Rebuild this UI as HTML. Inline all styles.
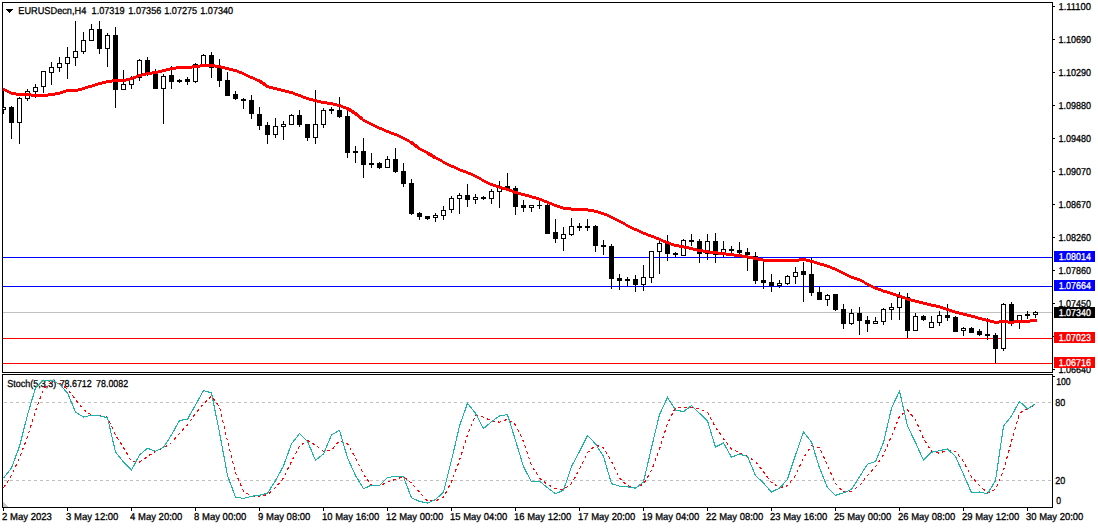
<!DOCTYPE html><html><head><meta charset="utf-8"><style>html,body{margin:0;padding:0;background:#fff;width:1098px;height:528px;overflow:hidden}svg{display:block}text{font-family:"Liberation Sans",sans-serif;text-rendering:geometricPrecision}</style></head><body><svg width="1098" height="528" viewBox="0 0 1098 528" shape-rendering="crispEdges"><defs><clipPath id="cm"><rect x="3" y="3" width="1049" height="369"/></clipPath><clipPath id="cs"><rect x="3" y="375" width="1049" height="132"/></clipPath></defs><rect width="100%" height="100%" fill="#fff"/><rect x="2" y="2" width="1051" height="1" fill="#000"/><rect x="2" y="372" width="1051" height="1" fill="#000"/><rect x="2" y="2" width="1" height="371" fill="#000"/><rect x="1052" y="2" width="1" height="371" fill="#000"/><rect x="2" y="374" width="1051" height="1" fill="#000"/><rect x="2" y="507" width="1051" height="1" fill="#000"/><rect x="2" y="374" width="1" height="134" fill="#000"/><rect x="1052" y="374" width="1" height="134" fill="#000"/><rect x="3" y="257" width="1049" height="1" fill="#0000FF"/><rect x="3" y="286" width="1049" height="1" fill="#0000FF"/><rect x="3" y="312" width="1049" height="1" fill="#C0C0C0"/><rect x="3" y="338" width="1049" height="1" fill="#FF0000"/><rect x="3" y="363" width="1049" height="1" fill="#FF0000"/><g fill="#000" clip-path="url(#cm)"><rect x="3" y="88" width="1" height="26"/><rect x="1" y="107" width="5" height="3"/><rect x="2" y="108" width="3" height="1" fill="#fff"/><rect x="11" y="106" width="1" height="33"/><rect x="9" y="107" width="5" height="16"/><rect x="19" y="97" width="1" height="47"/><rect x="17" y="98" width="5" height="25"/><rect x="18" y="99" width="3" height="23" fill="#fff"/><rect x="27" y="89" width="1" height="12"/><rect x="25" y="91" width="5" height="8"/><rect x="26" y="92" width="3" height="6" fill="#fff"/><rect x="35" y="84" width="1" height="14"/><rect x="33" y="87" width="5" height="5"/><rect x="34" y="88" width="3" height="3" fill="#fff"/><rect x="43" y="71" width="1" height="22"/><rect x="41" y="71" width="5" height="16"/><rect x="42" y="72" width="3" height="14" fill="#fff"/><rect x="51" y="62" width="1" height="23"/><rect x="49" y="67" width="5" height="6"/><rect x="50" y="68" width="3" height="4" fill="#fff"/><rect x="59" y="57" width="1" height="15"/><rect x="57" y="63" width="5" height="5"/><rect x="58" y="64" width="3" height="3" fill="#fff"/><rect x="67" y="47" width="1" height="32"/><rect x="65" y="57" width="5" height="7"/><rect x="66" y="58" width="3" height="5" fill="#fff"/><rect x="75" y="21" width="1" height="45"/><rect x="73" y="51" width="5" height="7"/><rect x="74" y="52" width="3" height="5" fill="#fff"/><rect x="83" y="32" width="1" height="22"/><rect x="81" y="40" width="5" height="12"/><rect x="82" y="41" width="3" height="10" fill="#fff"/><rect x="91" y="24" width="1" height="17"/><rect x="89" y="29" width="5" height="12"/><rect x="90" y="30" width="3" height="10" fill="#fff"/><rect x="99" y="21" width="1" height="33"/><rect x="97" y="29" width="5" height="20"/><rect x="107" y="33" width="1" height="34"/><rect x="105" y="35" width="5" height="14"/><rect x="106" y="36" width="3" height="12" fill="#fff"/><rect x="115" y="27" width="1" height="81"/><rect x="113" y="35" width="5" height="55"/><rect x="123" y="70" width="1" height="20"/><rect x="121" y="84" width="5" height="6"/><rect x="122" y="85" width="3" height="4" fill="#fff"/><rect x="131" y="76" width="1" height="13"/><rect x="129" y="79" width="5" height="6"/><rect x="130" y="80" width="3" height="4" fill="#fff"/><rect x="139" y="59" width="1" height="22"/><rect x="137" y="60" width="5" height="18"/><rect x="138" y="61" width="3" height="16" fill="#fff"/><rect x="147" y="57" width="1" height="19"/><rect x="145" y="60" width="5" height="13"/><rect x="155" y="69" width="1" height="20"/><rect x="153" y="72" width="5" height="17"/><rect x="163" y="74" width="1" height="50"/><rect x="161" y="76" width="5" height="13"/><rect x="162" y="77" width="3" height="11" fill="#fff"/><rect x="171" y="66" width="1" height="23"/><rect x="169" y="75" width="5" height="7"/><rect x="179" y="79" width="1" height="4"/><rect x="177" y="80" width="5" height="2"/><rect x="187" y="77" width="1" height="8"/><rect x="185" y="79" width="5" height="3"/><rect x="195" y="63" width="1" height="20"/><rect x="193" y="64" width="5" height="18"/><rect x="194" y="65" width="3" height="16" fill="#fff"/><rect x="203" y="54" width="1" height="11"/><rect x="201" y="55" width="5" height="10"/><rect x="202" y="56" width="3" height="8" fill="#fff"/><rect x="211" y="52" width="1" height="26"/><rect x="209" y="55" width="5" height="13"/><rect x="219" y="59" width="1" height="28"/><rect x="217" y="68" width="5" height="13"/><rect x="227" y="72" width="1" height="24"/><rect x="225" y="80" width="5" height="16"/><rect x="235" y="91" width="1" height="9"/><rect x="233" y="94" width="5" height="5"/><rect x="243" y="98" width="1" height="11"/><rect x="241" y="99" width="5" height="2"/><rect x="251" y="95" width="1" height="24"/><rect x="249" y="100" width="5" height="14"/><rect x="259" y="107" width="1" height="23"/><rect x="257" y="114" width="5" height="12"/><rect x="267" y="122" width="1" height="22"/><rect x="265" y="125" width="5" height="10"/><rect x="275" y="118" width="1" height="20"/><rect x="273" y="126" width="5" height="9"/><rect x="274" y="127" width="3" height="7" fill="#fff"/><rect x="283" y="121" width="1" height="19"/><rect x="281" y="124" width="5" height="3"/><rect x="282" y="125" width="3" height="1" fill="#fff"/><rect x="291" y="114" width="1" height="11"/><rect x="289" y="115" width="5" height="10"/><rect x="290" y="116" width="3" height="8" fill="#fff"/><rect x="299" y="110" width="1" height="17"/><rect x="297" y="115" width="5" height="10"/><rect x="307" y="124" width="1" height="17"/><rect x="305" y="124" width="5" height="14"/><rect x="315" y="90" width="1" height="54"/><rect x="313" y="124" width="5" height="14"/><rect x="314" y="125" width="3" height="12" fill="#fff"/><rect x="323" y="108" width="1" height="20"/><rect x="321" y="110" width="5" height="15"/><rect x="322" y="111" width="3" height="13" fill="#fff"/><rect x="331" y="107" width="1" height="7"/><rect x="329" y="109" width="5" height="2"/><rect x="339" y="97" width="1" height="21"/><rect x="337" y="110" width="5" height="7"/><rect x="347" y="110" width="1" height="48"/><rect x="345" y="116" width="5" height="37"/><rect x="355" y="146" width="1" height="17"/><rect x="353" y="151" width="5" height="2"/><rect x="363" y="138" width="1" height="40"/><rect x="361" y="151" width="5" height="14"/><rect x="371" y="153" width="1" height="15"/><rect x="369" y="163" width="5" height="2"/><rect x="379" y="162" width="1" height="7"/><rect x="377" y="163" width="5" height="5"/><rect x="387" y="156" width="1" height="12"/><rect x="385" y="159" width="5" height="9"/><rect x="386" y="160" width="3" height="7" fill="#fff"/><rect x="395" y="148" width="1" height="25"/><rect x="393" y="159" width="5" height="13"/><rect x="403" y="163" width="1" height="24"/><rect x="401" y="171" width="5" height="13"/><rect x="411" y="179" width="1" height="36"/><rect x="409" y="183" width="5" height="31"/><rect x="419" y="212" width="1" height="8"/><rect x="417" y="213" width="5" height="4"/><rect x="427" y="216" width="1" height="4"/><rect x="425" y="216" width="5" height="3"/><rect x="435" y="213" width="1" height="9"/><rect x="433" y="215" width="5" height="3"/><rect x="434" y="216" width="3" height="1" fill="#fff"/><rect x="443" y="206" width="1" height="14"/><rect x="441" y="210" width="5" height="6"/><rect x="442" y="211" width="3" height="4" fill="#fff"/><rect x="451" y="196" width="1" height="17"/><rect x="449" y="198" width="5" height="12"/><rect x="450" y="199" width="3" height="10" fill="#fff"/><rect x="459" y="193" width="1" height="21"/><rect x="457" y="195" width="5" height="4"/><rect x="458" y="196" width="3" height="2" fill="#fff"/><rect x="467" y="184" width="1" height="23"/><rect x="465" y="195" width="5" height="5"/><rect x="475" y="194" width="1" height="10"/><rect x="473" y="197" width="5" height="3"/><rect x="474" y="198" width="3" height="1" fill="#fff"/><rect x="483" y="196" width="1" height="4"/><rect x="481" y="197" width="5" height="2"/><rect x="491" y="189" width="1" height="15"/><rect x="489" y="191" width="5" height="8"/><rect x="490" y="192" width="3" height="6" fill="#fff"/><rect x="499" y="181" width="1" height="27"/><rect x="497" y="187" width="5" height="5"/><rect x="498" y="188" width="3" height="3" fill="#fff"/><rect x="507" y="173" width="1" height="17"/><rect x="505" y="186" width="5" height="3"/><rect x="515" y="186" width="1" height="29"/><rect x="513" y="188" width="5" height="19"/><rect x="523" y="200" width="1" height="12"/><rect x="521" y="205" width="5" height="3"/><rect x="531" y="205" width="1" height="7"/><rect x="529" y="205" width="5" height="3"/><rect x="530" y="206" width="3" height="1" fill="#fff"/><rect x="539" y="200" width="1" height="9"/><rect x="537" y="205" width="5" height="1"/><rect x="547" y="204" width="1" height="30"/><rect x="545" y="205" width="5" height="29"/><rect x="555" y="219" width="1" height="24"/><rect x="553" y="232" width="5" height="7"/><rect x="563" y="227" width="1" height="24"/><rect x="561" y="234" width="5" height="5"/><rect x="562" y="235" width="3" height="3" fill="#fff"/><rect x="571" y="218" width="1" height="18"/><rect x="569" y="226" width="5" height="9"/><rect x="570" y="227" width="3" height="7" fill="#fff"/><rect x="579" y="223" width="1" height="8"/><rect x="577" y="226" width="5" height="2"/><rect x="587" y="219" width="1" height="12"/><rect x="585" y="226" width="5" height="2"/><rect x="595" y="225" width="1" height="27"/><rect x="593" y="226" width="5" height="20"/><rect x="603" y="240" width="1" height="15"/><rect x="601" y="245" width="5" height="2"/><rect x="611" y="244" width="1" height="45"/><rect x="609" y="246" width="5" height="33"/><rect x="619" y="274" width="1" height="16"/><rect x="617" y="278" width="5" height="3"/><rect x="627" y="277" width="1" height="9"/><rect x="625" y="279" width="5" height="2"/><rect x="635" y="275" width="1" height="17"/><rect x="633" y="279" width="5" height="6"/><rect x="643" y="265" width="1" height="26"/><rect x="641" y="277" width="5" height="8"/><rect x="642" y="278" width="3" height="6" fill="#fff"/><rect x="651" y="251" width="1" height="32"/><rect x="649" y="251" width="5" height="27"/><rect x="650" y="252" width="3" height="25" fill="#fff"/><rect x="659" y="238" width="1" height="36"/><rect x="657" y="243" width="5" height="9"/><rect x="658" y="244" width="3" height="7" fill="#fff"/><rect x="667" y="235" width="1" height="26"/><rect x="665" y="243" width="5" height="11"/><rect x="675" y="252" width="1" height="5"/><rect x="673" y="253" width="5" height="2"/><rect x="683" y="239" width="1" height="17"/><rect x="681" y="240" width="5" height="16"/><rect x="682" y="241" width="3" height="14" fill="#fff"/><rect x="691" y="234" width="1" height="12"/><rect x="689" y="240" width="5" height="2"/><rect x="699" y="239" width="1" height="24"/><rect x="697" y="241" width="5" height="13"/><rect x="707" y="234" width="1" height="26"/><rect x="705" y="241" width="5" height="13"/><rect x="706" y="242" width="3" height="11" fill="#fff"/><rect x="715" y="233" width="1" height="30"/><rect x="713" y="241" width="5" height="14"/><rect x="723" y="241" width="1" height="16"/><rect x="721" y="249" width="5" height="6"/><rect x="722" y="250" width="3" height="4" fill="#fff"/><rect x="731" y="246" width="1" height="7"/><rect x="729" y="249" width="5" height="2"/><rect x="739" y="242" width="1" height="12"/><rect x="737" y="250" width="5" height="3"/><rect x="747" y="248" width="1" height="23"/><rect x="745" y="252" width="5" height="3"/><rect x="755" y="252" width="1" height="32"/><rect x="753" y="256" width="5" height="25"/><rect x="763" y="261" width="1" height="28"/><rect x="761" y="280" width="5" height="3"/><rect x="771" y="274" width="1" height="18"/><rect x="769" y="282" width="5" height="4"/><rect x="779" y="280" width="1" height="8"/><rect x="777" y="283" width="5" height="3"/><rect x="778" y="284" width="3" height="1" fill="#fff"/><rect x="787" y="275" width="1" height="10"/><rect x="785" y="276" width="5" height="8"/><rect x="786" y="277" width="3" height="6" fill="#fff"/><rect x="795" y="267" width="1" height="17"/><rect x="793" y="272" width="5" height="5"/><rect x="794" y="273" width="3" height="3" fill="#fff"/><rect x="803" y="262" width="1" height="40"/><rect x="801" y="271" width="5" height="4"/><rect x="811" y="258" width="1" height="38"/><rect x="809" y="274" width="5" height="19"/><rect x="819" y="287" width="1" height="13"/><rect x="817" y="292" width="5" height="8"/><rect x="827" y="294" width="1" height="12"/><rect x="825" y="295" width="5" height="5"/><rect x="826" y="296" width="3" height="3" fill="#fff"/><rect x="835" y="294" width="1" height="17"/><rect x="833" y="294" width="5" height="16"/><rect x="843" y="304" width="1" height="25"/><rect x="841" y="309" width="5" height="15"/><rect x="851" y="309" width="1" height="16"/><rect x="849" y="313" width="5" height="11"/><rect x="850" y="314" width="3" height="9" fill="#fff"/><rect x="859" y="307" width="1" height="28"/><rect x="857" y="313" width="5" height="8"/><rect x="867" y="316" width="1" height="16"/><rect x="865" y="320" width="5" height="4"/><rect x="875" y="317" width="1" height="7"/><rect x="873" y="321" width="5" height="3"/><rect x="874" y="322" width="3" height="1" fill="#fff"/><rect x="883" y="308" width="1" height="17"/><rect x="881" y="309" width="5" height="13"/><rect x="882" y="310" width="3" height="11" fill="#fff"/><rect x="891" y="303" width="1" height="17"/><rect x="889" y="307" width="5" height="3"/><rect x="890" y="308" width="3" height="1" fill="#fff"/><rect x="899" y="292" width="1" height="28"/><rect x="897" y="297" width="5" height="11"/><rect x="898" y="298" width="3" height="9" fill="#fff"/><rect x="907" y="293" width="1" height="45"/><rect x="905" y="297" width="5" height="34"/><rect x="915" y="313" width="1" height="18"/><rect x="913" y="316" width="5" height="15"/><rect x="914" y="317" width="3" height="13" fill="#fff"/><rect x="923" y="315" width="1" height="6"/><rect x="921" y="316" width="5" height="4"/><rect x="931" y="316" width="1" height="12"/><rect x="929" y="322" width="5" height="6"/><rect x="930" y="323" width="3" height="4" fill="#fff"/><rect x="939" y="311" width="1" height="15"/><rect x="937" y="315" width="5" height="8"/><rect x="938" y="316" width="3" height="6" fill="#fff"/><rect x="947" y="304" width="1" height="17"/><rect x="945" y="315" width="5" height="3"/><rect x="955" y="316" width="1" height="16"/><rect x="953" y="317" width="5" height="15"/><rect x="963" y="327" width="1" height="9"/><rect x="961" y="328" width="5" height="3"/><rect x="962" y="329" width="3" height="1" fill="#fff"/><rect x="971" y="327" width="1" height="6"/><rect x="969" y="328" width="5" height="5"/><rect x="979" y="329" width="1" height="7"/><rect x="977" y="331" width="5" height="4"/><rect x="987" y="318" width="1" height="22"/><rect x="985" y="334" width="5" height="2"/><rect x="995" y="333" width="1" height="30"/><rect x="993" y="335" width="5" height="14"/><rect x="1003" y="303" width="1" height="48"/><rect x="1001" y="304" width="5" height="45"/><rect x="1002" y="305" width="3" height="43" fill="#fff"/><rect x="1011" y="302" width="1" height="24"/><rect x="1009" y="304" width="5" height="17"/><rect x="1019" y="315" width="1" height="14"/><rect x="1017" y="315" width="5" height="6"/><rect x="1018" y="316" width="3" height="4" fill="#fff"/><rect x="1027" y="311" width="1" height="8"/><rect x="1025" y="314" width="5" height="2"/><rect x="1035" y="311" width="1" height="7"/><rect x="1033" y="312" width="5" height="3"/><rect x="1034" y="313" width="3" height="1" fill="#fff"/></g><path fill="#FF0000" d="M3 88h1v3h-1zM4 88h1v3h-1zM5 89h1v3h-1zM6 89h1v3h-1zM7 90h1v3h-1zM8 90h1v3h-1zM9 91h1v3h-1zM10 91h1v3h-1zM11 92h1v3h-1zM12 92h1v3h-1zM13 92h1v3h-1zM14 92h1v3h-1zM15 92h1v3h-1zM16 93h1v3h-1zM17 93h1v3h-1zM18 93h1v3h-1zM19 93h1v3h-1zM20 93h1v3h-1zM21 93h1v3h-1zM22 93h1v3h-1zM23 93h1v3h-1zM24 93h1v3h-1zM25 93h1v3h-1zM26 93h1v3h-1zM27 93h1v3h-1zM28 93h1v3h-1zM29 93h1v3h-1zM30 93h1v3h-1zM31 94h1v3h-1zM32 94h1v3h-1zM33 94h1v3h-1zM34 94h1v3h-1zM35 94h1v3h-1zM36 94h1v3h-1zM37 94h1v3h-1zM38 94h1v3h-1zM39 94h1v3h-1zM40 94h1v3h-1zM41 94h1v3h-1zM42 94h1v3h-1zM43 94h1v3h-1zM44 94h1v3h-1zM45 94h1v3h-1zM46 94h1v3h-1zM47 94h1v3h-1zM48 93h1v3h-1zM49 93h1v3h-1zM50 93h1v3h-1zM51 93h1v3h-1zM52 93h1v3h-1zM53 93h1v3h-1zM54 93h1v3h-1zM55 92h1v3h-1zM56 92h1v3h-1zM57 92h1v3h-1zM58 92h1v3h-1zM59 92h1v3h-1zM60 91h1v3h-1zM61 91h1v3h-1zM62 91h1v3h-1zM63 90h1v3h-1zM64 90h1v3h-1zM65 90h1v3h-1zM66 89h1v3h-1zM67 89h1v3h-1zM68 89h1v3h-1zM69 89h1v3h-1zM70 89h1v3h-1zM71 89h1v3h-1zM72 89h1v3h-1zM73 89h1v3h-1zM74 89h1v3h-1zM75 89h1v3h-1zM76 89h1v3h-1zM77 89h1v3h-1zM78 88h1v3h-1zM79 88h1v3h-1zM80 88h1v3h-1zM81 88h1v3h-1zM82 87h1v3h-1zM83 87h1v3h-1zM84 87h1v3h-1zM85 86h1v3h-1zM86 86h1v3h-1zM87 86h1v3h-1zM88 85h1v3h-1zM89 85h1v3h-1zM90 85h1v3h-1zM91 85h1v3h-1zM92 84h1v3h-1zM93 84h1v3h-1zM94 84h1v3h-1zM95 83h1v3h-1zM96 83h1v3h-1zM97 83h1v3h-1zM98 82h1v3h-1zM99 82h1v3h-1zM100 82h1v3h-1zM101 82h1v3h-1zM102 81h1v3h-1zM103 81h1v3h-1zM104 81h1v3h-1zM105 81h1v3h-1zM106 80h1v3h-1zM107 80h1v3h-1zM108 80h1v3h-1zM109 80h1v3h-1zM110 80h1v3h-1zM111 80h1v3h-1zM112 79h1v3h-1zM113 79h1v3h-1zM114 79h1v3h-1zM115 79h1v3h-1zM116 79h1v3h-1zM117 79h1v3h-1zM118 79h1v3h-1zM119 79h1v3h-1zM120 79h1v3h-1zM121 79h1v3h-1zM122 79h1v3h-1zM123 79h1v3h-1zM124 79h1v3h-1zM125 79h1v3h-1zM126 78h1v3h-1zM127 78h1v3h-1zM128 78h1v3h-1zM129 78h1v3h-1zM130 77h1v3h-1zM131 77h1v3h-1zM132 77h1v3h-1zM133 76h1v3h-1zM134 76h1v3h-1zM135 76h1v3h-1zM136 75h1v3h-1zM137 75h1v3h-1zM138 74h1v3h-1zM139 74h1v3h-1zM140 74h1v3h-1zM141 74h1v3h-1zM142 73h1v3h-1zM143 73h1v3h-1zM144 73h1v3h-1zM145 73h1v3h-1zM146 72h1v3h-1zM147 72h1v3h-1zM148 72h1v3h-1zM149 72h1v3h-1zM150 72h1v3h-1zM151 72h1v3h-1zM152 71h1v3h-1zM153 71h1v3h-1zM154 71h1v3h-1zM155 71h1v3h-1zM156 71h1v3h-1zM157 71h1v3h-1zM158 70h1v3h-1zM159 70h1v3h-1zM160 70h1v3h-1zM161 70h1v3h-1zM162 69h1v3h-1zM163 69h1v3h-1zM164 69h1v3h-1zM165 69h1v3h-1zM166 68h1v3h-1zM167 68h1v3h-1zM168 68h1v3h-1zM169 68h1v3h-1zM170 67h1v3h-1zM171 67h1v3h-1zM172 67h1v3h-1zM173 67h1v3h-1zM174 67h1v3h-1zM175 67h1v3h-1zM176 66h1v3h-1zM177 66h1v3h-1zM178 66h1v3h-1zM179 66h1v3h-1zM180 66h1v3h-1zM181 66h1v3h-1zM182 66h1v3h-1zM183 66h1v3h-1zM184 66h1v3h-1zM185 66h1v3h-1zM186 66h1v3h-1zM187 66h1v3h-1zM188 66h1v3h-1zM189 66h1v3h-1zM190 66h1v3h-1zM191 66h1v3h-1zM192 65h1v3h-1zM193 65h1v3h-1zM194 65h1v3h-1zM195 65h1v3h-1zM196 65h1v3h-1zM197 65h1v3h-1zM198 65h1v3h-1zM199 65h1v3h-1zM200 64h1v3h-1zM201 64h1v3h-1zM202 64h1v3h-1zM203 64h1v3h-1zM204 64h1v3h-1zM205 64h1v3h-1zM206 64h1v3h-1zM207 64h1v3h-1zM208 64h1v3h-1zM209 64h1v3h-1zM210 64h1v3h-1zM211 64h1v3h-1zM212 64h1v3h-1zM213 64h1v3h-1zM214 64h1v3h-1zM215 65h1v3h-1zM216 65h1v3h-1zM217 65h1v3h-1zM218 65h1v3h-1zM219 65h1v3h-1zM220 65h1v3h-1zM221 66h1v3h-1zM222 66h1v3h-1zM223 66h1v3h-1zM224 66h1v3h-1zM225 67h1v3h-1zM226 67h1v3h-1zM227 67h1v3h-1zM228 67h1v3h-1zM229 68h1v3h-1zM230 68h1v3h-1zM231 68h1v3h-1zM232 68h1v3h-1zM233 69h1v3h-1zM234 69h1v3h-1zM235 69h1v3h-1zM236 69h1v3h-1zM237 70h1v3h-1zM238 70h1v3h-1zM239 71h1v3h-1zM240 71h1v3h-1zM241 71h1v3h-1zM242 72h1v3h-1zM243 72h1v3h-1zM244 73h1v3h-1zM245 73h1v3h-1zM246 74h1v3h-1zM247 74h1v3h-1zM248 75h1v3h-1zM249 75h1v3h-1zM250 76h1v3h-1zM251 76h1v3h-1zM252 76h1v3h-1zM253 77h1v3h-1zM254 77h1v3h-1zM255 78h1v3h-1zM256 78h1v3h-1zM257 79h1v3h-1zM258 79h1v3h-1zM259 79h1v4h-1zM260 80h1v4h-1zM261 80h1v4h-1zM262 81h1v4h-1zM263 82h1v4h-1zM264 82h1v4h-1zM265 83h1v4h-1zM266 84h1v4h-1zM267 85h1v3h-1zM268 85h1v3h-1zM269 86h1v3h-1zM270 86h1v3h-1zM271 86h1v3h-1zM272 86h1v3h-1zM273 87h1v3h-1zM274 87h1v3h-1zM275 87h1v3h-1zM276 87h1v3h-1zM277 88h1v3h-1zM278 88h1v3h-1zM279 88h1v3h-1zM280 88h1v3h-1zM281 89h1v3h-1zM282 89h1v3h-1zM283 89h1v3h-1zM284 89h1v3h-1zM285 90h1v3h-1zM286 90h1v3h-1zM287 90h1v3h-1zM288 90h1v3h-1zM289 91h1v3h-1zM290 91h1v3h-1zM291 91h1v3h-1zM292 91h1v3h-1zM293 92h1v3h-1zM294 92h1v3h-1zM295 93h1v3h-1zM296 93h1v3h-1zM297 93h1v3h-1zM298 94h1v3h-1zM299 94h1v3h-1zM300 94h1v3h-1zM301 95h1v3h-1zM302 95h1v3h-1zM303 96h1v3h-1zM304 96h1v3h-1zM305 96h1v3h-1zM306 97h1v3h-1zM307 97h1v3h-1zM308 97h1v3h-1zM309 98h1v3h-1zM310 98h1v3h-1zM311 98h1v3h-1zM312 98h1v3h-1zM313 99h1v3h-1zM314 99h1v3h-1zM315 99h1v3h-1zM316 99h1v3h-1zM317 100h1v3h-1zM318 100h1v3h-1zM319 100h1v3h-1zM320 100h1v3h-1zM321 101h1v3h-1zM322 101h1v3h-1zM323 101h1v3h-1zM324 101h1v3h-1zM325 101h1v3h-1zM326 101h1v3h-1zM327 102h1v3h-1zM328 102h1v3h-1zM329 102h1v3h-1zM330 102h1v3h-1zM331 102h1v3h-1zM332 102h1v3h-1zM333 103h1v3h-1zM334 103h1v3h-1zM335 103h1v3h-1zM336 103h1v3h-1zM337 104h1v3h-1zM338 104h1v3h-1zM339 104h1v3h-1zM340 104h1v3h-1zM341 105h1v3h-1zM342 105h1v3h-1zM343 106h1v3h-1zM344 106h1v3h-1zM345 106h1v3h-1zM346 107h1v3h-1zM347 107h1v4h-1zM348 107h1v4h-1zM349 108h1v4h-1zM350 108h1v4h-1zM351 109h1v4h-1zM352 110h1v4h-1zM353 110h1v4h-1zM354 111h1v4h-1zM355 112h1v4h-1zM356 112h1v4h-1zM357 113h1v4h-1zM358 114h1v4h-1zM359 115h1v4h-1zM360 116h1v4h-1zM361 116h1v4h-1zM362 117h1v4h-1zM363 119h1v3h-1zM364 119h1v3h-1zM365 120h1v3h-1zM366 120h1v3h-1zM367 121h1v3h-1zM368 121h1v3h-1zM369 122h1v3h-1zM370 122h1v3h-1zM371 123h1v3h-1zM372 123h1v3h-1zM373 124h1v3h-1zM374 124h1v3h-1zM375 125h1v3h-1zM376 125h1v3h-1zM377 126h1v3h-1zM378 126h1v3h-1zM379 127h1v3h-1zM380 127h1v3h-1zM381 127h1v3h-1zM382 128h1v3h-1zM383 128h1v3h-1zM384 129h1v3h-1zM385 129h1v3h-1zM386 130h1v3h-1zM387 130h1v3h-1zM388 130h1v3h-1zM389 131h1v3h-1zM390 131h1v3h-1zM391 132h1v3h-1zM392 132h1v3h-1zM393 132h1v3h-1zM394 133h1v3h-1zM395 133h1v3h-1zM396 133h1v3h-1zM397 134h1v3h-1zM398 134h1v3h-1zM399 135h1v3h-1zM400 135h1v3h-1zM401 136h1v3h-1zM402 136h1v3h-1zM403 137h1v3h-1zM404 137h1v3h-1zM405 138h1v3h-1zM406 138h1v3h-1zM407 139h1v3h-1zM408 139h1v3h-1zM409 140h1v3h-1zM410 141h1v3h-1zM411 141h1v4h-1zM412 141h1v4h-1zM413 142h1v4h-1zM414 143h1v4h-1zM415 144h1v4h-1zM416 144h1v4h-1zM417 145h1v4h-1zM418 146h1v4h-1zM419 147h1v3h-1zM420 148h1v3h-1zM421 148h1v3h-1zM422 149h1v3h-1zM423 149h1v3h-1zM424 150h1v3h-1zM425 150h1v3h-1zM426 151h1v3h-1zM427 151h1v4h-1zM428 152h1v4h-1zM429 152h1v4h-1zM430 153h1v4h-1zM431 153h1v4h-1zM432 154h1v4h-1zM433 155h1v4h-1zM434 155h1v4h-1zM435 156h1v3h-1zM436 157h1v3h-1zM437 157h1v3h-1zM438 158h1v3h-1zM439 158h1v3h-1zM440 159h1v3h-1zM441 159h1v3h-1zM442 160h1v3h-1zM443 161h1v3h-1zM444 161h1v3h-1zM445 162h1v3h-1zM446 162h1v3h-1zM447 163h1v3h-1zM448 163h1v3h-1zM449 164h1v3h-1zM450 164h1v3h-1zM451 165h1v3h-1zM452 165h1v3h-1zM453 165h1v3h-1zM454 166h1v3h-1zM455 166h1v3h-1zM456 167h1v3h-1zM457 167h1v3h-1zM458 168h1v3h-1zM459 168h1v3h-1zM460 169h1v3h-1zM461 169h1v3h-1zM462 169h1v3h-1zM463 170h1v3h-1zM464 170h1v3h-1zM465 170h1v3h-1zM466 171h1v3h-1zM467 171h1v3h-1zM468 172h1v3h-1zM469 172h1v3h-1zM470 172h1v3h-1zM471 173h1v3h-1zM472 173h1v3h-1zM473 174h1v3h-1zM474 174h1v3h-1zM475 175h1v3h-1zM476 175h1v3h-1zM477 176h1v3h-1zM478 176h1v3h-1zM479 177h1v3h-1zM480 177h1v3h-1zM481 178h1v3h-1zM482 179h1v3h-1zM483 179h1v3h-1zM484 180h1v3h-1zM485 180h1v3h-1zM486 181h1v3h-1zM487 181h1v3h-1zM488 182h1v3h-1zM489 182h1v3h-1zM490 183h1v3h-1zM491 183h1v3h-1zM492 183h1v3h-1zM493 184h1v3h-1zM494 184h1v3h-1zM495 184h1v3h-1zM496 185h1v3h-1zM497 185h1v3h-1zM498 185h1v3h-1zM499 186h1v3h-1zM500 186h1v3h-1zM501 186h1v3h-1zM502 187h1v3h-1zM503 187h1v3h-1zM504 187h1v3h-1zM505 187h1v3h-1zM506 188h1v3h-1zM507 188h1v3h-1zM508 188h1v3h-1zM509 189h1v3h-1zM510 189h1v3h-1zM511 189h1v3h-1zM512 190h1v3h-1zM513 190h1v3h-1zM514 191h1v3h-1zM515 191h1v3h-1zM516 191h1v3h-1zM517 191h1v3h-1zM518 192h1v3h-1zM519 192h1v3h-1zM520 192h1v3h-1zM521 193h1v3h-1zM522 193h1v3h-1zM523 193h1v3h-1zM524 193h1v3h-1zM525 194h1v3h-1zM526 194h1v3h-1zM527 194h1v3h-1zM528 194h1v3h-1zM529 195h1v3h-1zM530 195h1v3h-1zM531 195h1v3h-1zM532 196h1v3h-1zM533 196h1v3h-1zM534 196h1v3h-1zM535 196h1v3h-1zM536 197h1v3h-1zM537 197h1v3h-1zM538 197h1v3h-1zM539 198h1v3h-1zM540 198h1v3h-1zM541 198h1v3h-1zM542 199h1v3h-1zM543 199h1v3h-1zM544 200h1v3h-1zM545 200h1v3h-1zM546 200h1v3h-1zM547 201h1v3h-1zM548 201h1v3h-1zM549 202h1v3h-1zM550 202h1v3h-1zM551 202h1v3h-1zM552 203h1v3h-1zM553 203h1v3h-1zM554 204h1v3h-1zM555 204h1v3h-1zM556 204h1v3h-1zM557 205h1v3h-1zM558 205h1v3h-1zM559 205h1v3h-1zM560 206h1v3h-1zM561 206h1v3h-1zM562 206h1v3h-1zM563 207h1v3h-1zM564 207h1v3h-1zM565 207h1v3h-1zM566 207h1v3h-1zM567 207h1v3h-1zM568 207h1v3h-1zM569 207h1v3h-1zM570 207h1v3h-1zM571 208h1v3h-1zM572 208h1v3h-1zM573 208h1v3h-1zM574 208h1v3h-1zM575 208h1v3h-1zM576 208h1v3h-1zM577 208h1v3h-1zM578 208h1v3h-1zM579 208h1v3h-1zM580 208h1v3h-1zM581 208h1v3h-1zM582 208h1v3h-1zM583 208h1v3h-1zM584 208h1v3h-1zM585 208h1v3h-1zM586 208h1v3h-1zM587 208h1v3h-1zM588 209h1v3h-1zM589 209h1v3h-1zM590 209h1v3h-1zM591 209h1v3h-1zM592 209h1v3h-1zM593 209h1v3h-1zM594 210h1v3h-1zM595 210h1v3h-1zM596 210h1v3h-1zM597 210h1v3h-1zM598 211h1v3h-1zM599 211h1v3h-1zM600 211h1v3h-1zM601 212h1v3h-1zM602 212h1v3h-1zM603 212h1v3h-1zM604 213h1v3h-1zM605 213h1v3h-1zM606 213h1v3h-1zM607 214h1v3h-1zM608 214h1v3h-1zM609 215h1v3h-1zM610 215h1v3h-1zM611 216h1v3h-1zM612 216h1v3h-1zM613 217h1v3h-1zM614 217h1v3h-1zM615 218h1v3h-1zM616 218h1v3h-1zM617 219h1v3h-1zM618 219h1v3h-1zM619 220h1v3h-1zM620 220h1v3h-1zM621 221h1v3h-1zM622 221h1v3h-1zM623 222h1v3h-1zM624 222h1v3h-1zM625 223h1v3h-1zM626 224h1v3h-1zM627 224h1v3h-1zM628 225h1v3h-1zM629 225h1v3h-1zM630 226h1v3h-1zM631 226h1v3h-1zM632 227h1v3h-1zM633 227h1v3h-1zM634 228h1v3h-1zM635 228h1v3h-1zM636 228h1v3h-1zM637 229h1v3h-1zM638 229h1v3h-1zM639 230h1v3h-1zM640 230h1v3h-1zM641 231h1v3h-1zM642 231h1v3h-1zM643 232h1v3h-1zM644 232h1v3h-1zM645 232h1v3h-1zM646 233h1v3h-1zM647 233h1v3h-1zM648 234h1v3h-1zM649 234h1v3h-1zM650 234h1v3h-1zM651 235h1v3h-1zM652 235h1v3h-1zM653 235h1v3h-1zM654 236h1v3h-1zM655 236h1v3h-1zM656 237h1v3h-1zM657 237h1v3h-1zM658 237h1v3h-1zM659 238h1v3h-1zM660 238h1v3h-1zM661 239h1v3h-1zM662 239h1v3h-1zM663 240h1v3h-1zM664 240h1v3h-1zM665 240h1v3h-1zM666 241h1v3h-1zM667 241h1v3h-1zM668 241h1v3h-1zM669 242h1v3h-1zM670 242h1v3h-1zM671 243h1v3h-1zM672 243h1v3h-1zM673 243h1v3h-1zM674 244h1v3h-1zM675 244h1v3h-1zM676 244h1v3h-1zM677 244h1v3h-1zM678 244h1v3h-1zM679 245h1v3h-1zM680 245h1v3h-1zM681 245h1v3h-1zM682 245h1v3h-1zM683 245h1v3h-1zM684 246h1v3h-1zM685 246h1v3h-1zM686 246h1v3h-1zM687 246h1v3h-1zM688 246h1v3h-1zM689 247h1v3h-1zM690 247h1v3h-1zM691 247h1v3h-1zM692 247h1v3h-1zM693 248h1v3h-1zM694 248h1v3h-1zM695 248h1v3h-1zM696 248h1v3h-1zM697 249h1v3h-1zM698 249h1v3h-1zM699 249h1v3h-1zM700 249h1v3h-1zM701 249h1v3h-1zM702 249h1v3h-1zM703 250h1v3h-1zM704 250h1v3h-1zM705 250h1v3h-1zM706 250h1v3h-1zM707 250h1v3h-1zM708 250h1v3h-1zM709 251h1v3h-1zM710 251h1v3h-1zM711 251h1v3h-1zM712 251h1v3h-1zM713 251h1v3h-1zM714 251h1v3h-1zM715 251h1v3h-1zM716 251h1v3h-1zM717 251h1v3h-1zM718 252h1v3h-1zM719 252h1v3h-1zM720 252h1v3h-1zM721 252h1v3h-1zM722 252h1v3h-1zM723 252h1v3h-1zM724 252h1v3h-1zM725 252h1v3h-1zM726 253h1v3h-1zM727 253h1v3h-1zM728 253h1v3h-1zM729 253h1v3h-1zM730 253h1v3h-1zM731 253h1v3h-1zM732 253h1v3h-1zM733 253h1v3h-1zM734 254h1v3h-1zM735 254h1v3h-1zM736 254h1v3h-1zM737 254h1v3h-1zM738 254h1v3h-1zM739 254h1v3h-1zM740 254h1v3h-1zM741 254h1v3h-1zM742 255h1v3h-1zM743 255h1v3h-1zM744 255h1v3h-1zM745 255h1v3h-1zM746 255h1v3h-1zM747 255h1v3h-1zM748 256h1v3h-1zM749 256h1v3h-1zM750 256h1v3h-1zM751 256h1v3h-1zM752 256h1v3h-1zM753 257h1v3h-1zM754 257h1v3h-1zM755 257h1v3h-1zM756 257h1v3h-1zM757 257h1v3h-1zM758 258h1v3h-1zM759 258h1v3h-1zM760 258h1v3h-1zM761 258h1v3h-1zM762 258h1v3h-1zM763 259h1v3h-1zM764 259h1v3h-1zM765 259h1v3h-1zM766 259h1v3h-1zM767 259h1v3h-1zM768 259h1v3h-1zM769 259h1v3h-1zM770 259h1v3h-1zM771 259h1v3h-1zM772 259h1v3h-1zM773 259h1v3h-1zM774 259h1v3h-1zM775 259h1v3h-1zM776 259h1v3h-1zM777 259h1v3h-1zM778 259h1v3h-1zM779 259h1v3h-1zM780 259h1v3h-1zM781 259h1v3h-1zM782 259h1v3h-1zM783 259h1v3h-1zM784 259h1v3h-1zM785 259h1v3h-1zM786 259h1v3h-1zM787 259h1v3h-1zM788 259h1v3h-1zM789 259h1v3h-1zM790 259h1v3h-1zM791 259h1v3h-1zM792 259h1v3h-1zM793 259h1v3h-1zM794 259h1v3h-1zM795 259h1v3h-1zM796 259h1v3h-1zM797 259h1v3h-1zM798 259h1v3h-1zM799 258h1v3h-1zM800 258h1v3h-1zM801 258h1v3h-1zM802 258h1v3h-1zM803 258h1v3h-1zM804 258h1v3h-1zM805 258h1v3h-1zM806 259h1v3h-1zM807 259h1v3h-1zM808 259h1v3h-1zM809 259h1v3h-1zM810 260h1v3h-1zM811 260h1v3h-1zM812 260h1v3h-1zM813 260h1v3h-1zM814 261h1v3h-1zM815 261h1v3h-1zM816 261h1v3h-1zM817 262h1v3h-1zM818 262h1v3h-1zM819 262h1v3h-1zM820 263h1v3h-1zM821 263h1v3h-1zM822 263h1v3h-1zM823 263h1v3h-1zM824 264h1v3h-1zM825 264h1v3h-1zM826 264h1v3h-1zM827 265h1v3h-1zM828 265h1v3h-1zM829 265h1v3h-1zM830 266h1v3h-1zM831 266h1v3h-1zM832 267h1v3h-1zM833 267h1v3h-1zM834 267h1v3h-1zM835 268h1v3h-1zM836 268h1v3h-1zM837 269h1v3h-1zM838 269h1v3h-1zM839 270h1v3h-1zM840 270h1v3h-1zM841 271h1v3h-1zM842 271h1v3h-1zM843 272h1v3h-1zM844 272h1v3h-1zM845 273h1v3h-1zM846 273h1v3h-1zM847 274h1v3h-1zM848 274h1v3h-1zM849 275h1v3h-1zM850 275h1v3h-1zM851 276h1v3h-1zM852 276h1v3h-1zM853 276h1v3h-1zM854 277h1v3h-1zM855 277h1v3h-1zM856 277h1v3h-1zM857 278h1v3h-1zM858 278h1v3h-1zM859 278h1v3h-1zM860 279h1v3h-1zM861 279h1v3h-1zM862 280h1v3h-1zM863 280h1v3h-1zM864 281h1v3h-1zM865 282h1v3h-1zM866 282h1v3h-1zM867 283h1v3h-1zM868 283h1v3h-1zM869 284h1v3h-1zM870 284h1v3h-1zM871 285h1v3h-1zM872 285h1v3h-1zM873 286h1v3h-1zM874 286h1v3h-1zM875 287h1v3h-1zM876 287h1v3h-1zM877 287h1v3h-1zM878 288h1v3h-1zM879 288h1v3h-1zM880 288h1v3h-1zM881 289h1v3h-1zM882 289h1v3h-1zM883 290h1v3h-1zM884 290h1v3h-1zM885 290h1v3h-1zM886 290h1v3h-1zM887 291h1v3h-1zM888 291h1v3h-1zM889 291h1v3h-1zM890 292h1v3h-1zM891 292h1v3h-1zM892 292h1v3h-1zM893 293h1v3h-1zM894 293h1v3h-1zM895 293h1v3h-1zM896 294h1v3h-1zM897 294h1v3h-1zM898 294h1v3h-1zM899 295h1v3h-1zM900 295h1v3h-1zM901 295h1v3h-1zM902 296h1v3h-1zM903 296h1v3h-1zM904 296h1v3h-1zM905 297h1v3h-1zM906 297h1v3h-1zM907 298h1v3h-1zM908 298h1v3h-1zM909 298h1v3h-1zM910 298h1v3h-1zM911 299h1v3h-1zM912 299h1v3h-1zM913 299h1v3h-1zM914 299h1v3h-1zM915 300h1v3h-1zM916 300h1v3h-1zM917 300h1v3h-1zM918 300h1v3h-1zM919 301h1v3h-1zM920 301h1v3h-1zM921 301h1v3h-1zM922 301h1v3h-1zM923 302h1v3h-1zM924 302h1v3h-1zM925 302h1v3h-1zM926 302h1v3h-1zM927 303h1v3h-1zM928 303h1v3h-1zM929 303h1v3h-1zM930 303h1v3h-1zM931 304h1v3h-1zM932 304h1v3h-1zM933 304h1v3h-1zM934 304h1v3h-1zM935 304h1v3h-1zM936 305h1v3h-1zM937 305h1v3h-1zM938 305h1v3h-1zM939 305h1v3h-1zM940 306h1v3h-1zM941 306h1v3h-1zM942 306h1v3h-1zM943 307h1v3h-1zM944 307h1v3h-1zM945 307h1v3h-1zM946 308h1v3h-1zM947 308h1v3h-1zM948 308h1v3h-1zM949 309h1v3h-1zM950 309h1v3h-1zM951 309h1v3h-1zM952 310h1v3h-1zM953 310h1v3h-1zM954 310h1v3h-1zM955 311h1v3h-1zM956 311h1v3h-1zM957 311h1v3h-1zM958 311h1v3h-1zM959 312h1v3h-1zM960 312h1v3h-1zM961 312h1v3h-1zM962 312h1v3h-1zM963 313h1v3h-1zM964 313h1v3h-1zM965 313h1v3h-1zM966 313h1v3h-1zM967 314h1v3h-1zM968 314h1v3h-1zM969 314h1v3h-1zM970 314h1v3h-1zM971 315h1v3h-1zM972 315h1v3h-1zM973 315h1v3h-1zM974 315h1v3h-1zM975 316h1v3h-1zM976 316h1v3h-1zM977 316h1v3h-1zM978 317h1v3h-1zM979 317h1v3h-1zM980 317h1v3h-1zM981 317h1v3h-1zM982 318h1v3h-1zM983 318h1v3h-1zM984 318h1v3h-1zM985 318h1v3h-1zM986 319h1v3h-1zM987 319h1v3h-1zM988 319h1v3h-1zM989 319h1v3h-1zM990 320h1v3h-1zM991 320h1v3h-1zM992 320h1v3h-1zM993 320h1v3h-1zM994 321h1v3h-1zM995 321h1v3h-1zM996 321h1v3h-1zM997 321h1v3h-1zM998 321h1v3h-1zM999 320h1v3h-1zM1000 320h1v3h-1zM1001 320h1v3h-1zM1002 320h1v3h-1zM1003 320h1v3h-1zM1004 320h1v3h-1zM1005 320h1v3h-1zM1006 320h1v3h-1zM1007 320h1v3h-1zM1008 321h1v3h-1zM1009 321h1v3h-1zM1010 321h1v3h-1zM1011 321h1v3h-1zM1012 321h1v3h-1zM1013 321h1v3h-1zM1014 320h1v3h-1zM1015 320h1v3h-1zM1016 320h1v3h-1zM1017 320h1v3h-1zM1018 320h1v3h-1zM1019 320h1v3h-1zM1020 320h1v3h-1zM1021 320h1v3h-1zM1022 320h1v3h-1zM1023 320h1v3h-1zM1024 320h1v3h-1zM1025 320h1v3h-1zM1026 320h1v3h-1zM1027 320h1v3h-1zM1028 320h1v3h-1zM1029 320h1v3h-1zM1030 319h1v3h-1zM1031 319h1v3h-1zM1032 319h1v3h-1zM1033 319h1v3h-1zM1034 319h1v3h-1zM1035 319h1v3h-1zM1036 319h1v3h-1z"/><g font-family="&quot;Liberation Sans&quot;, sans-serif"><text x="7.2" y="387" font-size="10" fill="#000" stroke="#000" stroke-width="0.3" textLength="49" lengthAdjust="spacingAndGlyphs">Stoch(5,3,3)</text><text x="59.7" y="387" font-size="10" fill="#000" stroke="#000" stroke-width="0.3" textLength="32" lengthAdjust="spacingAndGlyphs">78.6712</text><text x="96.1" y="387" font-size="10" fill="#000" stroke="#000" stroke-width="0.3" textLength="32" lengthAdjust="spacingAndGlyphs">78.0082</text></g><g clip-path="url(#cs)"><line x1="3" y1="402.5" x2="1052" y2="402.5" stroke="#C0C0C0" stroke-width="1" stroke-dasharray="3,3" stroke-dashoffset="-1"/><line x1="3" y1="480.5" x2="1052" y2="480.5" stroke="#C0C0C0" stroke-width="1" stroke-dasharray="3,3" stroke-dashoffset="-1"/><polyline points="3.5,487.7 11.5,475.5 19.5,457.8 27.5,437.0 35.5,411.0 43.5,389.0 51.5,381.6 59.5,382.9 67.5,389.2 75.5,399.4 83.5,409.5 91.5,415.1 99.5,415.9 107.5,417.1 115.5,435.0 123.5,447.6 131.5,461.5 139.5,462.0 147.5,456.5 155.5,451.2 163.5,448.0 171.5,442.5 179.5,433.6 187.5,424.8 195.5,413.3 203.5,404.0 211.5,396.3 219.5,407.0 227.5,441.0 235.5,473.0 243.5,491.3 251.5,496.3 259.5,496.0 267.5,494.6 275.5,487.7 283.5,478.0 291.5,461.6 299.5,446.3 307.5,440.5 315.5,445.1 323.5,451.4 331.5,450.1 339.5,440.5 347.5,443.8 355.5,457.8 363.5,474.3 371.5,485.2 379.5,485.7 387.5,482.2 395.5,479.3 403.5,476.8 411.5,483.1 419.5,492.0 427.5,500.9 435.5,500.9 443.5,497.1 451.5,481.9 459.5,460.3 467.5,434.9 475.5,415.1 483.5,417.1 491.5,421.0 499.5,422.2 507.5,419.2 515.5,424.8 523.5,441.3 531.5,465.4 539.5,478.1 547.5,484.4 555.5,488.7 563.5,489.5 571.5,483.6 579.5,469.2 587.5,452.7 595.5,445.1 603.5,447.6 611.5,461.6 619.5,478.1 627.5,485.7 635.5,487.7 643.5,484.0 651.5,470.4 659.5,448.9 667.5,423.5 675.5,407.5 683.5,407.0 691.5,407.5 699.5,409.0 707.5,412.1 715.5,427.3 723.5,438.7 731.5,448.9 739.5,452.7 747.5,456.5 755.5,461.6 763.5,471.7 771.5,482.5 779.5,487.7 787.5,485.7 795.5,475.5 803.5,457.8 811.5,445.6 819.5,447.6 827.5,465.4 835.5,483.6 843.5,492.0 851.5,491.3 859.5,485.7 867.5,475.5 875.5,466.6 883.5,454.7 891.5,436.2 899.5,416.5 907.5,410.0 915.5,419.7 923.5,438.7 931.5,451.4 939.5,453.2 947.5,450.1 955.5,451.4 963.5,461.6 971.5,476.8 979.5,485.7 987.5,492.8 995.5,489.5 1003.5,470.4 1011.5,441.3 1019.5,413.3 1027.5,408.3 1035.5,404.6" fill="none" stroke="#FF0000" stroke-width="1.1" stroke-dasharray="3,3"/><polyline points="3.5,478.0 11.5,468.0 19.5,446.3 27.5,415.0 35.5,388.0 43.5,380.3 51.5,380.3 59.5,384.2 67.5,393.0 75.5,412.0 83.5,417.1 91.5,415.1 99.5,415.9 107.5,417.7 115.5,452.0 123.5,462.0 131.5,470.0 139.5,455.0 147.5,448.2 155.5,451.3 163.5,447.4 171.5,434.9 179.5,420.4 187.5,419.2 195.5,405.0 203.5,390.5 211.5,393.0 219.5,432.4 227.5,475.5 235.5,497.1 243.5,498.4 251.5,496.3 259.5,495.3 267.5,493.3 275.5,480.6 283.5,465.9 291.5,443.8 299.5,433.6 307.5,441.3 315.5,460.3 323.5,454.0 331.5,434.9 339.5,430.3 347.5,457.8 355.5,475.5 363.5,488.7 371.5,485.2 379.5,485.7 387.5,477.6 395.5,476.3 403.5,476.8 411.5,497.9 419.5,501.4 427.5,503.0 435.5,499.6 443.5,492.0 451.5,460.3 459.5,426.0 467.5,403.2 475.5,413.3 483.5,428.6 491.5,421.7 499.5,415.9 507.5,414.6 515.5,440.5 523.5,466.6 531.5,481.9 539.5,481.1 547.5,487.7 555.5,493.8 563.5,490.2 571.5,466.6 579.5,451.4 587.5,435.4 595.5,443.8 603.5,456.5 611.5,483.6 619.5,486.2 627.5,486.9 635.5,488.2 643.5,481.9 651.5,447.6 659.5,414.6 667.5,397.4 675.5,410.0 683.5,411.6 691.5,405.7 699.5,413.3 707.5,421.0 715.5,447.1 723.5,443.0 731.5,457.2 739.5,454.0 747.5,456.5 755.5,475.5 763.5,483.1 771.5,492.0 779.5,488.2 787.5,479.3 795.5,455.2 803.5,431.9 811.5,442.0 819.5,467.9 827.5,487.7 835.5,495.3 843.5,492.8 851.5,489.5 859.5,476.8 867.5,464.1 875.5,461.6 883.5,442.5 891.5,408.3 899.5,391.0 907.5,426.0 915.5,442.5 923.5,460.3 931.5,452.2 939.5,450.7 947.5,448.9 955.5,456.5 963.5,474.3 971.5,492.8 979.5,492.0 987.5,493.8 995.5,480.6 1003.5,426.0 1011.5,415.9 1019.5,401.4 1027.5,409.0 1035.5,403.7" fill="none" stroke="#20B2AA" stroke-width="1.1"/></g><polygon points="3,502 3,507 8,507" fill="#C8C8C8"/><polygon points="6,9 13,9 9.5,13" fill="#000"/><rect x="1053" y="6" width="2" height="1" fill="#000"/><rect x="1053" y="39" width="2" height="1" fill="#000"/><rect x="1053" y="72" width="2" height="1" fill="#000"/><rect x="1053" y="105" width="2" height="1" fill="#000"/><rect x="1053" y="138" width="2" height="1" fill="#000"/><rect x="1053" y="171" width="2" height="1" fill="#000"/><rect x="1053" y="204" width="2" height="1" fill="#000"/><rect x="1053" y="237" width="2" height="1" fill="#000"/><rect x="1053" y="270" width="2" height="1" fill="#000"/><rect x="1053" y="303" width="2" height="1" fill="#000"/><rect x="1053" y="336" width="2" height="1" fill="#000"/><rect x="1053" y="369" width="2" height="1" fill="#000"/><rect x="1053" y="376" width="2" height="1" fill="#000"/><g font-family="&quot;Liberation Sans&quot;, sans-serif"><text x="18.3" y="14" font-size="10" fill="#000" stroke="#000" stroke-width="0.3" textLength="68" lengthAdjust="spacingAndGlyphs">EURUSDecn,H4</text><text x="91.6" y="14" font-size="10" fill="#000" stroke="#000" stroke-width="0.3" textLength="33" lengthAdjust="spacingAndGlyphs">1.07319</text><text x="128.3" y="14" font-size="10" fill="#000" stroke="#000" stroke-width="0.3" textLength="33" lengthAdjust="spacingAndGlyphs">1.07356</text><text x="164.2" y="14" font-size="10" fill="#000" stroke="#000" stroke-width="0.3" textLength="33" lengthAdjust="spacingAndGlyphs">1.07275</text><text x="200.2" y="14" font-size="10" fill="#000" stroke="#000" stroke-width="0.3" textLength="33" lengthAdjust="spacingAndGlyphs">1.07340</text><text x="1058.5" y="10" font-size="10" fill="#000" stroke="#000" stroke-width="0.3" textLength="32.5" lengthAdjust="spacingAndGlyphs">1.11100</text><text x="1058.5" y="43" font-size="10" fill="#000" stroke="#000" stroke-width="0.3" textLength="32.5" lengthAdjust="spacingAndGlyphs">1.10690</text><text x="1058.5" y="76" font-size="10" fill="#000" stroke="#000" stroke-width="0.3" textLength="32.5" lengthAdjust="spacingAndGlyphs">1.10290</text><text x="1058.5" y="109" font-size="10" fill="#000" stroke="#000" stroke-width="0.3" textLength="32.5" lengthAdjust="spacingAndGlyphs">1.09880</text><text x="1058.5" y="142" font-size="10" fill="#000" stroke="#000" stroke-width="0.3" textLength="32.5" lengthAdjust="spacingAndGlyphs">1.09480</text><text x="1058.5" y="175" font-size="10" fill="#000" stroke="#000" stroke-width="0.3" textLength="32.5" lengthAdjust="spacingAndGlyphs">1.09070</text><text x="1058.5" y="208" font-size="10" fill="#000" stroke="#000" stroke-width="0.3" textLength="32.5" lengthAdjust="spacingAndGlyphs">1.08670</text><text x="1058.5" y="241" font-size="10" fill="#000" stroke="#000" stroke-width="0.3" textLength="32.5" lengthAdjust="spacingAndGlyphs">1.08260</text><text x="1058.5" y="274" font-size="10" fill="#000" stroke="#000" stroke-width="0.3" textLength="32.5" lengthAdjust="spacingAndGlyphs">1.07860</text><text x="1058.5" y="307" font-size="10" fill="#000" stroke="#000" stroke-width="0.3" textLength="32.5" lengthAdjust="spacingAndGlyphs">1.07450</text><text x="1058.5" y="340" font-size="10" fill="#000" stroke="#000" stroke-width="0.3" textLength="32.5" lengthAdjust="spacingAndGlyphs">1.07040</text><text x="1058.5" y="373" font-size="10" fill="#000" stroke="#000" stroke-width="0.3" textLength="32.5" lengthAdjust="spacingAndGlyphs">1.06640</text><text x="1056.2" y="385" font-size="10" fill="#000" stroke="#000" stroke-width="0.3" textLength="14.5" lengthAdjust="spacingAndGlyphs">100</text><text x="1055.2" y="406" font-size="10" fill="#000" stroke="#000" stroke-width="0.3" textLength="10" lengthAdjust="spacingAndGlyphs">80</text><text x="1055.2" y="484" font-size="10" fill="#000" stroke="#000" stroke-width="0.3" textLength="10" lengthAdjust="spacingAndGlyphs">20</text><text x="1056.3" y="504" font-size="10" fill="#000" stroke="#000" stroke-width="0.3" textLength="4.8" lengthAdjust="spacingAndGlyphs">0</text></g><g font-family="&quot;Liberation Sans&quot;, sans-serif"><rect x="1054" y="251" width="41" height="11" fill="#0000FF"/><text x="1058.7" y="260" font-size="10" fill="#fff" stroke="#fff" stroke-width="0.3" textLength="32.2" lengthAdjust="spacingAndGlyphs">1.08014</text><rect x="1054" y="280" width="41" height="11" fill="#0000FF"/><text x="1058.7" y="289" font-size="10" fill="#fff" stroke="#fff" stroke-width="0.3" textLength="32.2" lengthAdjust="spacingAndGlyphs">1.07664</text><rect x="1054" y="307" width="41" height="11" fill="#000000"/><text x="1058.7" y="316" font-size="10" fill="#fff" stroke="#fff" stroke-width="0.3" textLength="32.2" lengthAdjust="spacingAndGlyphs">1.07340</text><rect x="1054" y="332" width="41" height="11" fill="#FF0000"/><text x="1058.7" y="341" font-size="10" fill="#fff" stroke="#fff" stroke-width="0.3" textLength="32.2" lengthAdjust="spacingAndGlyphs">1.07023</text><rect x="1054" y="357" width="41" height="11" fill="#FF0000"/><text x="1058.7" y="366" font-size="10" fill="#fff" stroke="#fff" stroke-width="0.3" textLength="32.2" lengthAdjust="spacingAndGlyphs">1.06716</text></g><rect x="3" y="508" width="1" height="3" fill="#000"/><rect x="67" y="508" width="1" height="3" fill="#000"/><rect x="131" y="508" width="1" height="3" fill="#000"/><rect x="195" y="508" width="1" height="3" fill="#000"/><rect x="259" y="508" width="1" height="3" fill="#000"/><rect x="323" y="508" width="1" height="3" fill="#000"/><rect x="387" y="508" width="1" height="3" fill="#000"/><rect x="451" y="508" width="1" height="3" fill="#000"/><rect x="515" y="508" width="1" height="3" fill="#000"/><rect x="579" y="508" width="1" height="3" fill="#000"/><rect x="643" y="508" width="1" height="3" fill="#000"/><rect x="707" y="508" width="1" height="3" fill="#000"/><rect x="771" y="508" width="1" height="3" fill="#000"/><rect x="835" y="508" width="1" height="3" fill="#000"/><rect x="899" y="508" width="1" height="3" fill="#000"/><rect x="963" y="508" width="1" height="3" fill="#000"/><rect x="1027" y="508" width="1" height="3" fill="#000"/><g font-family="&quot;Liberation Sans&quot;, sans-serif"><text x="2.1" y="520" font-size="10" fill="#000" stroke="#000" stroke-width="0.3" textLength="49.8" lengthAdjust="spacingAndGlyphs">2 May 2023</text><text x="66.1" y="520" font-size="10" fill="#000" stroke="#000" stroke-width="0.3" textLength="52.3" lengthAdjust="spacingAndGlyphs">3 May 12:00</text><text x="130.1" y="520" font-size="10" fill="#000" stroke="#000" stroke-width="0.3" textLength="52.3" lengthAdjust="spacingAndGlyphs">4 May 20:00</text><text x="194.1" y="520" font-size="10" fill="#000" stroke="#000" stroke-width="0.3" textLength="52.3" lengthAdjust="spacingAndGlyphs">8 May 00:00</text><text x="258.1" y="520" font-size="10" fill="#000" stroke="#000" stroke-width="0.3" textLength="52.3" lengthAdjust="spacingAndGlyphs">9 May 08:00</text><text x="322.1" y="520" font-size="10" fill="#000" stroke="#000" stroke-width="0.3" textLength="57.2" lengthAdjust="spacingAndGlyphs">10 May 16:00</text><text x="386.1" y="520" font-size="10" fill="#000" stroke="#000" stroke-width="0.3" textLength="57.2" lengthAdjust="spacingAndGlyphs">12 May 00:00</text><text x="450.1" y="520" font-size="10" fill="#000" stroke="#000" stroke-width="0.3" textLength="57.2" lengthAdjust="spacingAndGlyphs">15 May 04:00</text><text x="514.1" y="520" font-size="10" fill="#000" stroke="#000" stroke-width="0.3" textLength="57.2" lengthAdjust="spacingAndGlyphs">16 May 12:00</text><text x="578.1" y="520" font-size="10" fill="#000" stroke="#000" stroke-width="0.3" textLength="57.2" lengthAdjust="spacingAndGlyphs">17 May 20:00</text><text x="642.1" y="520" font-size="10" fill="#000" stroke="#000" stroke-width="0.3" textLength="57.2" lengthAdjust="spacingAndGlyphs">19 May 04:00</text><text x="706.1" y="520" font-size="10" fill="#000" stroke="#000" stroke-width="0.3" textLength="57.2" lengthAdjust="spacingAndGlyphs">22 May 08:00</text><text x="770.1" y="520" font-size="10" fill="#000" stroke="#000" stroke-width="0.3" textLength="57.2" lengthAdjust="spacingAndGlyphs">23 May 16:00</text><text x="834.1" y="520" font-size="10" fill="#000" stroke="#000" stroke-width="0.3" textLength="57.2" lengthAdjust="spacingAndGlyphs">25 May 00:00</text><text x="898.1" y="520" font-size="10" fill="#000" stroke="#000" stroke-width="0.3" textLength="57.2" lengthAdjust="spacingAndGlyphs">26 May 08:00</text><text x="962.1" y="520" font-size="10" fill="#000" stroke="#000" stroke-width="0.3" textLength="57.2" lengthAdjust="spacingAndGlyphs">29 May 12:00</text><text x="1026.1" y="520" font-size="10" fill="#000" stroke="#000" stroke-width="0.3" textLength="57.2" lengthAdjust="spacingAndGlyphs">30 May 20:00</text></g></svg></body></html>
